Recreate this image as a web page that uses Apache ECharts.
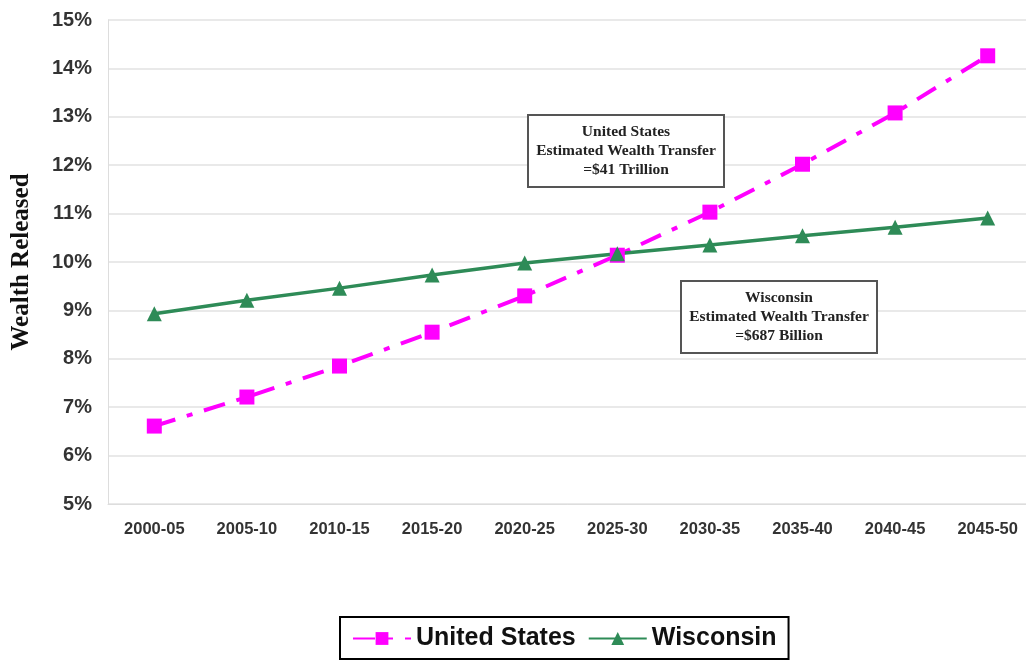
<!DOCTYPE html>
<html>
<head>
<meta charset="utf-8">
<script src="https://cdn.jsdelivr.net/npm/echarts@6/dist/echarts.min.js"></script>
<style>
  html, body { margin: 0; padding: 0; background: #fff; }
</style>
</head>
<body>
<!-- chart container -->
<div id="main" style="width: 1026px; height: 663px;"></div>
<script>
var periods = ['2000-05', '2005-10', '2010-15', '2015-20', '2020-25', '2025-30', '2030-35', '2035-40', '2040-45', '2045-50']
var usValues = [6.61, 7.21, 7.85, 8.55, 9.30, 10.14, 11.03, 12.02, 13.08, 14.26]
var wiValues = [8.93, 9.21, 9.46, 9.73, 9.98, 10.17, 10.35, 10.54, 10.72, 10.91]
var usNote = ['United States', 'Estimated Wealth Transfer', '=$41 Trillion']
var wiNote = ['Wisconsin', 'Estimated Wealth Transfer', '=$687 Billion']

function noteBox (left, top, lines) {
  return {
    type: 'group',
    left: left,
    top: top,
    z: 100,
    children: [
      {
        type: 'rect',
        z: 100,
        shape: { x: 0, y: 0, width: 196, height: 72 },
        style: { fill: '#fff', stroke: '#555', lineWidth: 2 }
      },
      {
        type: 'text',
        z: 101,
        x: 98,
        y: 36,
        style: {
          text: lines.join('\n'),
          fontFamily: 'Liberation Serif',
          fontWeight: 'bold',
          fontSize: 15.5,
          lineHeight: 19,
          fill: '#222',
          align: 'center',
          verticalAlign: 'middle'
        }
      }
    ]
  }
}

var chart = echarts.init(document.getElementById('main'))
var option = {
  animation: false,
  grid: {
    left: 108,
    right: -8,
    top: 20,
    bottom: 159,
    outerBoundsMode: 'none'
  },
  legend: {
    left: 340,
    top: 617,
    padding: [9, 12, 8, 12],
    itemGap: 12,
    itemWidth: 58,
    itemHeight: 16,
    borderColor: '#000',
    borderWidth: 2,
    textStyle: {
      fontFamily: 'Liberation Sans',
      fontWeight: 'bold',
      fontSize: 25,
      color: '#111'
    },
    data: ['United States', 'Wisconsin']
  },
  xAxis: {
    type: 'category',
    data: periods,
    axisLine: { lineStyle: { color: '#ddd' } },
    axisTick: { lineStyle: { color: '#ddd' }, length: 6 },
    axisLabel: {
      margin: 17,
      fontFamily: 'Liberation Sans',
      fontWeight: 'bold',
      fontSize: 16.5,
      color: '#333'
    }
  },
  yAxis: {
    type: 'value',
    min: 5,
    max: 15,
    interval: 1,
    name: 'Wealth Released',
    nameLocation: 'middle',
    nameGap: 74,
    nameTextStyle: {
      fontFamily: 'Liberation Serif',
      fontWeight: 'bold',
      fontSize: 25,
      color: '#111'
    },
    axisLine: { show: true, lineStyle: { color: '#ddd' } },
    axisLabel: {
      formatter: '{value}%',
      margin: 16,
      fontFamily: 'Liberation Sans',
      fontWeight: 'bold',
      fontSize: 20,
      color: '#333'
    },
    splitLine: { lineStyle: { color: '#e2e2e2', width: 1.5 } }
  },
  series: [
    {
      name: 'United States',
      type: 'line',
      data: usValues,
      symbol: 'rect',
      symbolSize: 15,
      itemStyle: { color: '#ff00ff' },
      lineStyle: { color: '#ff00ff', width: 4, type: [22, 12, 6, 12] }
    },
    {
      name: 'Wisconsin',
      type: 'line',
      data: wiValues,
      symbol: 'triangle',
      symbolSize: 15,
      itemStyle: { color: '#2e8b57' },
      lineStyle: { color: '#2e8b57', width: 3.5 }
    }
  ],
  graphic: [
    noteBox(527, 114, usNote),
    noteBox(680, 280, wiNote)
  ]
}
chart.setOption(option)
</script>
</body>
</html>
